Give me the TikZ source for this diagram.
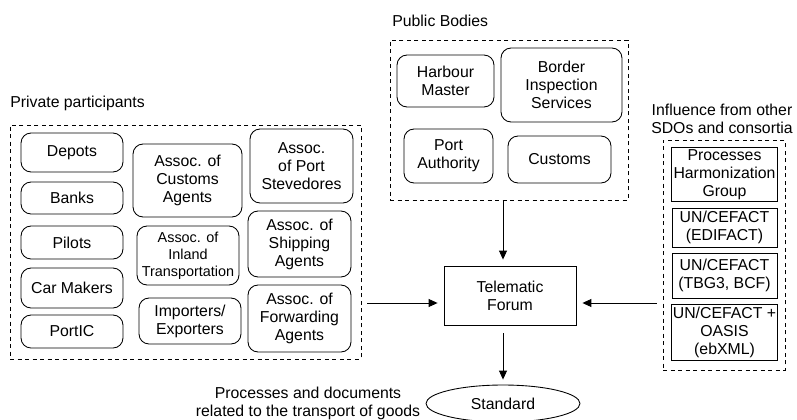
\documentclass[tikz,border=0pt]{standalone}
\usepackage{fontspec}
\setmainfont{Liberation Sans}
\usetikzlibrary{arrows.meta,shapes.geometric}
\tikzstyle{partbox}=[draw=black,rounded corners=0.2cm,line width=0.5pt,align=center,inner sep=1pt]
\tikzstyle{sdobox}=[draw=black,line width=0.5pt,align=center,inner sep=1pt,minimum width=2.1cm]
\tikzstyle{groupbox}=[draw=black,dash pattern=on 0.08cm off 0.07cm,line width=0.5pt]
\tikzstyle{grouplabel}=[inner sep=0pt,align=center]
\tikzstyle{flow}=[-{Triangle[width=0.16cm,length=0.18cm]},line width=0.5pt]

\begin{document}
\begin{tikzpicture}[x=0.02cm,y=-0.02cm,font=\fontsize{9}{10.2}\selectfont]

      % the picture is laid out in pixels, y going down
      \useasboundingbox (0,0) rectangle (797,419);
      \def\gap{0.12cm} % space left between an arrow and a box

      % Draw the three groups
      % private participants
      \node[groupbox,minimum width=7.02cm,minimum height=4.68cm] at (185.5,242) (private) {};
      \node[grouplabel,anchor=west] at (10,103) (privlbl) {Private participants};
      % public bodies
      \node[groupbox,minimum width=4.76cm,minimum height=3.2cm] at (509,120) (public) {};
      \node[grouplabel,anchor=west] at (392,21) (publbl) {Public Bodies};
      % other SDOs
      \node[groupbox,minimum width=2.44cm,minimum height=4.6cm] at (724,255) (sdo) {};
      \node[grouplabel] at (722,119) (sdolbl) {Influence from other\\SDOs and consortia};

      % Draw boxes inside the groups
      % first col of private participants
      \node[partbox,minimum width=2.04cm,minimum height=0.78cm] at (72,152.5) (depots) {Depots};
      \node[partbox,minimum width=2.04cm,minimum height=0.64cm] at (72,198) (banks) {Banks};
      \node[partbox,minimum width=2.04cm,minimum height=0.66cm] at (72,242.5) (pilots) {Pilots};
      \node[partbox,minimum width=2.04cm,minimum height=0.8cm] at (72,288) (cars) {Car Makers};
      \node[partbox,minimum width=2.04cm,minimum height=0.66cm] at (72,331.5) (portic) {PortIC};
      % second col
      \node[partbox,minimum width=2.18cm,minimum height=1.46cm] at (187.5,180.5) (custag) {Assoc. of\\Customs\\Agents};
      \node[partbox,minimum width=2.04cm,minimum height=1.18cm,font=\fontsize{8.2}{9.6}\selectfont] at (188,255.5) (inland) {Assoc. of\\Inland\\Transportation};
      \node[partbox,minimum width=2.04cm,minimum height=0.92cm] at (190,321) (import) {Importers/\\Exporters};
      % third col
      \node[partbox,minimum width=2.06cm,minimum height=1.48cm] at (301.5,166) (steve) {Assoc.\\of Port\\Stevedores};
      \node[partbox,minimum width=2.06cm,minimum height=1.32cm] at (299.5,244) (ship) {Assoc. of\\Shipping\\Agents};
      \node[partbox,minimum width=2.06cm,minimum height=1.34cm] at (299.5,318.5) (fwd) {Assoc. of\\Forwarding\\Agents};
      % public bodies
      \node[partbox,minimum width=1.94cm,minimum height=1.04cm] at (445.5,81) (harbour) {Harbour\\Master};
      \node[partbox,minimum width=2.42cm,minimum height=1.48cm] at (561.5,85) (border) {Border\\Inspection\\Services};
      \node[partbox,minimum width=1.78cm,minimum height=1.08cm] at (448.5,156) (portauth) {Port\\Authority};
      \node[partbox,minimum width=2.06cm,minimum height=0.94cm] at (559.5,159.5) (customs) {Customs};
      % other SDOs
      \node[sdobox,minimum height=1.06cm] at (724.5,174.5) (phg) {Processes\\Harmonization\\Group};
      \node[sdobox,minimum height=0.78cm] at (724.5,227.5) (edifact) {UN/CEFACT\\(EDIFACT)};
      \node[sdobox,minimum height=0.9cm] at (724.5,275.5) (tbg) {UN/CEFACT\\(TBG3, BCF)};
      \node[sdobox,minimum height=1.12cm] at (724.5,332) (ebxml) {UN/CEFACT +\\OASIS\\(ebXML)};

      % forum and its result
      \node[draw=black,line width=0.5pt,align=center,minimum width=2.64cm,minimum height=1.18cm] at (510,295.5) (forum) {Telematic\\Forum};
      \node[draw=black,line width=0.5pt,ellipse,minimum width=3.08cm,minimum height=0.74cm] at (503,403.5) (std) {Standard};
      \node[grouplabel] at (308,403) (stdlbl) {Processes and documents\\related to the transport of goods};

      % Draw all arrows
      \coordinate (fin) at ([yshift=-0.15cm]forum.west);
      \coordinate (fout) at ([yshift=-0.15cm]forum.east);
      \draw[flow,shorten <=\gap,shorten >=\gap] (private.east |- fin) -- (fin);
      \draw[flow,shorten <=\gap,shorten >=\gap] (sdo.west |- fout) -- (fout);
      \draw[flow,shorten >=\gap] (public.south -| std.north) -- (forum.north -| std.north);
      \draw[flow,shorten <=0.16cm,shorten >=0.1cm] (forum.south -| std.north) -- (std.north);

\end{tikzpicture}
\end{document}
